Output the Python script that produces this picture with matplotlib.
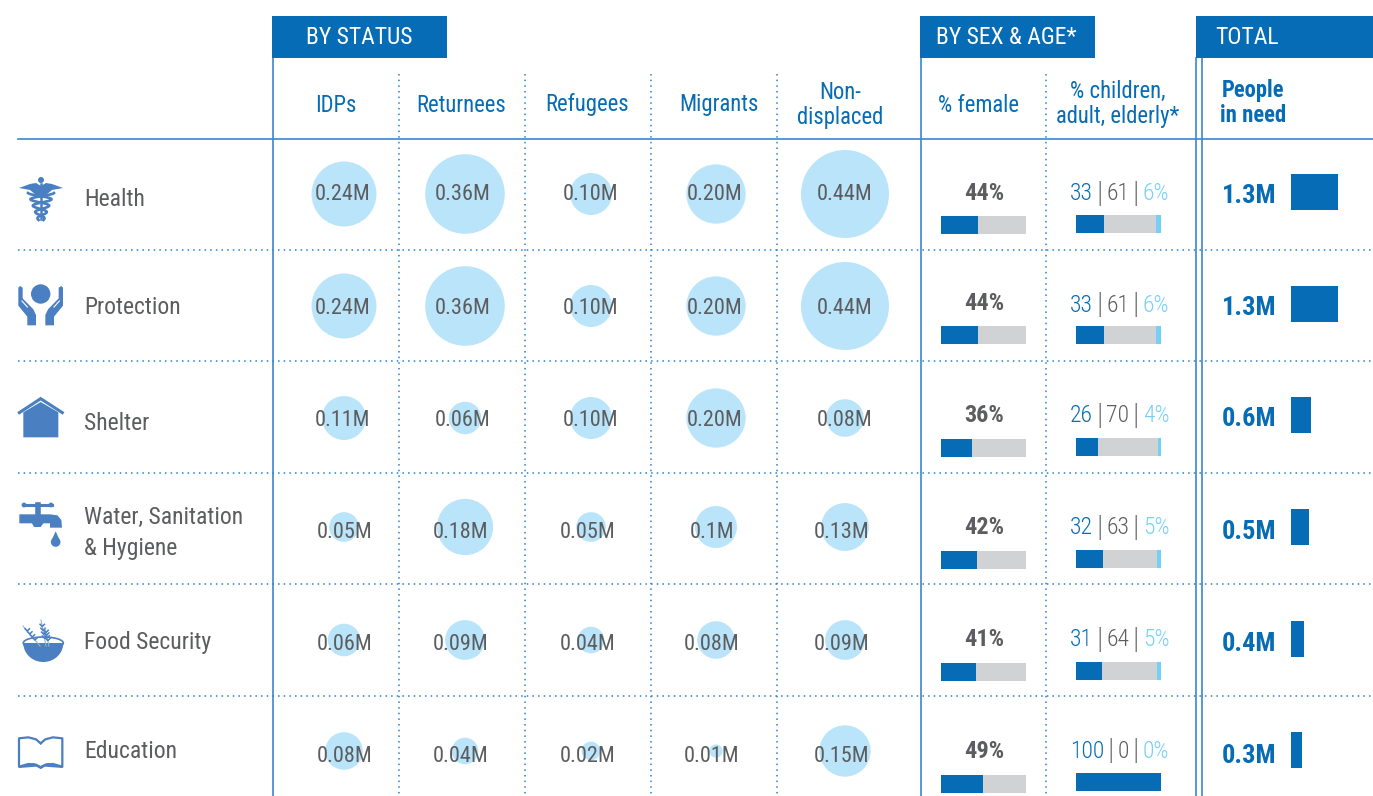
import numpy as np
import matplotlib
matplotlib.use('Agg')
import matplotlib.pyplot as plt
from matplotlib.patches import Circle, Polygon, Ellipse

plt.rcParams['font.family'] = ['Roboto Condensed', 'Roboto', 'DejaVu Sans']

sectors = ['Health', 'Protection', 'Shelter', 'Water, Sanitation\n& Hygiene', 'Food Security', 'Education']
status_names = ['IDPs', 'Returnees', 'Refugees', 'Migrants', 'Non-\ndisplaced']
idps = ['0.24M', '0.24M', '0.11M', '0.05M', '0.06M', '0.08M']
returnees = ['0.36M', '0.36M', '0.06M', '0.18M', '0.09M', '0.04M']
refugees = ['0.10M', '0.10M', '0.10M', '0.05M', '0.04M', '0.02M']
migrants = ['0.20M', '0.20M', '0.20M', '0.1M', '0.08M', '0.01M']
non_displaced = ['0.44M', '0.44M', '0.08M', '0.13M', '0.09M', '0.15M']
pct_female = [44, 44, 36, 42, 41, 49]
pct_children = [33, 33, 26, 32, 31, 100]
pct_adult = [61, 61, 70, 63, 64, 0]
pct_elderly = [6, 6, 4, 5, 5, 0]
total_labels = ['1.3M', '1.3M', '0.6M', '0.5M', '0.4M', '0.3M']
total_bars = [1.3, 1.3, 0.56, 0.5, 0.37, 0.3]

BLUE = '#066cb5'
LINE = '#3b86cc'
DOT = '#2a80d2'
ICON = '#4a7fc2'
GREY = '#5c5d5f'
BUBBLE = '#b9e4fa'
BAR_GREY = '#d1d2d4'
LIGHT = '#75d0f7'

fig = plt.figure(figsize=(13.73, 7.96), dpi=100)
ax = fig.add_axes([0, 0, 1, 1])
ax.set_xlim(0, 1373)
ax.set_ylim(796, 0)
ax.axis('off')
DOTS = (0, (1, 2.7))

# header boxes
ax.barh(37, 175, height=42, left=272, color=BLUE, zorder=3)
ax.barh(37, 175, height=42, left=920, color=BLUE, zorder=3)
ax.barh(37, 177, height=42, left=1196, color=BLUE, zorder=3)
ax.text(359.5, 38, 'BY STATUS', color='white', fontsize=17, ha='center', va='center', zorder=4)
ax.text(1006, 38, 'BY SEX & AGE*', color='white', fontsize=17, ha='center', va='center', zorder=4)
ax.text(1246.5, 38, 'TOTAL', color='white', fontsize=17, ha='center', va='center', zorder=4)

# grid
ax.plot([18, 1373], [139, 139], color=LINE, lw=1.2)
for y in [250, 361, 473, 584, 696]:
    ax.plot([18, 1373], [y, y], color=DOT, lw=1.1, ls=DOTS)
for x in [398.5, 524.5, 650.5, 776.5, 1046.3]:
    ax.plot([x, x], [74, 796], color=DOT, lw=1.1, ls=DOTS)
for x in [272.8, 920.5, 1196.3, 1202.3]:
    ax.plot([x, x], [58, 796], color=LINE, lw=1.2)

# column headers
for x, name in zip([336, 461, 587, 719, 840], status_names):
    ax.text(x, 105, name, color=BLUE, fontsize=16.3, ha='center', va='center', linespacing=1.12)
ax.text(978, 105, '% female', color=BLUE, fontsize=16.3, ha='center', va='center')
ax.text(1118, 104, '% children,\nadult, elderly*', color=BLUE, fontsize=16.3, ha='center', va='center', linespacing=1.12)
ax.text(1253, 103, 'People\nin need', color=BLUE, fontsize=16.3, weight='bold', ha='center', va='center', linespacing=1.08)

# sector names
for y, name in zip([200, 308, 423, 533, 642, 752], sectors):
    ax.text(84, y, name, color=GREY, fontsize=17, ha='left', va='center', linespacing=1.42)

# bubbles, area follows the value
columns = [idps, returnees, refugees, migrants, non_displaced]
bubble_x = [344, 465, 591, 716, 845]
bubble_y = [194, 306, 418, 527, 640, 751]
text_x_top = [343, 463, 591, 715, 845]
text_x_low = [345, 461, 588, 712, 842]
text_y = [195, 308, 420, 532, 644, 756]
k = 66.3
for col, labels in enumerate(columns):
    vals = np.array([float(s[:-1]) for s in labels])
    sizes = (2 * k * np.sqrt(vals) * 0.72) ** 2
    ax.scatter([bubble_x[col]] * 6, bubble_y, s=sizes, color=BUBBLE, linewidths=0, zorder=2)
    for i, s in enumerate(labels):
        tx = text_x_top[col] if i < 3 else text_x_low[col]
        ax.text(tx, text_y[i], s, color=GREY, fontsize=16, ha='center', va='center', zorder=5)

# % female
female_y = [225, 335, 448, 560, 672, 784]
female_text_y = [194, 303, 415, 527, 639, 751]
for i, p in enumerate(pct_female):
    ax.text(984, female_text_y[i], '%d%%' % p, color=GREY, fontsize=17.5, weight='bold', ha='center', va='center')
    ax.barh(female_y[i], 85, height=18, left=941, color=BAR_GREY, zorder=2)
    ax.barh(female_y[i], p * 0.85, height=18, left=941, color=BLUE, zorder=3)

# % children, adult, elderly
age_y = [224, 335, 447, 559, 671, 782]
age_text_y = [194, 305, 416, 528, 640, 751]
fig.canvas.draw()
renderer = fig.canvas.get_renderer()
for i in range(6):
    parts = [('%d' % pct_children[i], BLUE, 17), ('|', '#808285', 21), ('%d' % pct_adult[i], GREY, 17),
             ('|', '#808285', 21), ('%d%%' % pct_elderly[i], LIGHT, 17)]
    items = [ax.text(0, age_text_y[i], s, color=c, fontsize=fs, weight='light', ha='left', va='center')
             for s, c, fs in parts]
    widths = [t.get_window_extent(renderer).width for t in items]
    gap = 3.5
    x = 1119.5 - (sum(widths) + gap * 4) / 2
    for t, w in zip(items, widths):
        t.set_x(x)
        x += w + gap
    left = 1076
    for val, c in zip([pct_children[i], pct_adult[i], pct_elderly[i]], [BLUE, BAR_GREY, LIGHT]):
        ax.barh(age_y[i], val * 0.85, height=18, left=left, color=c, zorder=3)
        left += val * 0.85

# totals
total_y = [192, 304, 415, 527, 639, 750]
total_text_y = [196, 308, 419, 532, 644, 756]
for i in range(6):
    ax.text(1249, total_text_y[i], total_labels[i], color=BLUE, fontsize=19, weight='bold', ha='center', va='center')
    ax.barh(total_y[i], total_bars[i] * 36.2, height=36, left=1291, color=BLUE)


# icons, points below are in the zoomed pixel units of each icon
def pts(coords, y0):
    return [(cx / 3, y0 + cy / 3) for cx, cy in coords]


def caduceus():
    ax.add_patch(Circle((41, 180), 3, color=ICON, lw=0))
    ax.add_patch(Polygon([(19, 188), (30, 184), (36, 183), (41, 186), (46, 183), (52, 184), (63, 188),
                          (52, 190), (46, 195), (36, 195), (30, 190)], color=ICON, lw=0))
    ax.plot([41, 41], [184, 219], color=ICON, lw=1.8)
    t = np.linspace(0, 1, 40)
    yy = 193 + t * 27
    amp = 10 * (1 - t) + 3
    ax.plot(41 + amp * np.sin(t * 4.2 * np.pi + 0.5 * np.pi), yy, color=ICON, lw=1.9)
    ax.plot(41 - amp * np.sin(t * 4.2 * np.pi + 0.5 * np.pi), yy, color=ICON, lw=1.9)


def hands():
    ax.add_patch(Circle((40.7, 294), 9.7, color=ICON, lw=0))
    left = [(55, 68), (60, 63), (68, 68), (68, 100), (100, 133), (108, 150), (108, 181), (82, 181),
            (82, 155), (55, 122)]
    ax.add_patch(Polygon(pts(left, 265), color=ICON, lw=0))
    ax.add_patch(Polygon(pts([(244 - a, b) for a, b in left], 265), color=ICON, lw=0))
    ax.plot(*zip(*pts([(66, 108), (82, 126)], 265)), color='white', lw=0.8)
    ax.plot(*zip(*pts([(178, 108), (162, 126)], 265)), color='white', lw=0.8)


def house():
    ax.plot(*zip(*pts([(58, 98), (122, 56), (187, 98)], 380)), color=ICON, lw=2.2, solid_joinstyle='miter')
    ax.add_patch(Polygon(pts([(70, 97), (122, 66), (175, 97), (175, 172), (70, 172)], 380), color=ICON, lw=0))


def tap():
    ax.plot(*zip(*pts([(72, 375), (155, 375)], 380)), color=ICON, lw=2.2)
    ax.plot(*zip(*pts([(113, 375), (113, 400)], 380)), color=ICON, lw=4)
    for cx in [72, 113, 153]:
        ax.add_patch(Circle(pts([(cx, 375)], 380)[0], 2.4, color=ICON, lw=0))
    body = [(58, 403), (150, 403), (172, 406), (184, 420), (186, 443), (150, 443), (150, 430), (130, 430),
            (122, 441), (102, 441), (96, 430), (58, 430)]
    ax.add_patch(Polygon(pts(body, 380), color=ICON, lw=0))
    ax.add_patch(Polygon(pts([(167, 454), (156, 478), (178, 478)], 380), color=ICON, lw=0))
    ax.add_patch(Circle(pts([(167, 486)], 380)[0], 4.8, color=ICON, lw=0))


def bowl():
    cx, cy = 43.3, 643
    t = np.linspace(0, np.pi, 40)
    ax.add_patch(Polygon(list(zip(cx + 20 * np.cos(t), cy + 19 * np.sin(t))), color=ICON, lw=0, zorder=3))
    ax.add_patch(Ellipse((cx, cy), 40, 12, fill=False, ec=ICON, lw=1.2, zorder=3))
    for x0, y0, x1, y1 in [(46, 646, 41, 620), (40, 646, 23, 626), (49, 646, 45, 628)]:
        ax.plot([x0, x1], [y0, y1], color='#8fb2dc', lw=0.8, zorder=4)
        for f in [0.3, 0.45, 0.6, 0.75]:
            xm, ym = x0 + f * (x1 - x0), y0 + f * (y1 - y0)
            ax.plot([xm - 2.2, xm, xm + 2.2], [ym - 2.2, ym, ym - 2.2], color=ICON, lw=1.1, zorder=4)


def book():
    left = [(122, 1090), (108, 1078), (85, 1072), (57, 1075), (57, 1160), (85, 1152), (108, 1154), (122, 1162)]
    ax.plot(*zip(*pts(left, 380)), color=ICON, lw=1.6)
    ax.plot(*zip(*pts([(244 - a, b) for a, b in left], 380)), color=ICON, lw=1.6)
    ax.add_patch(Polygon(pts([(57, 1160), (100, 1149), (122, 1158), (144, 1149), (188, 1160), (188, 1164),
                              (135, 1160), (122, 1167), (109, 1160), (57, 1164)], 380), color=ICON, lw=0))


caduceus()
hands()
house()
tap()
bowl()
book()

ax.set_xlim(0, 1373)
ax.set_ylim(796, 0)
fig.savefig('out.png', dpi=100)
